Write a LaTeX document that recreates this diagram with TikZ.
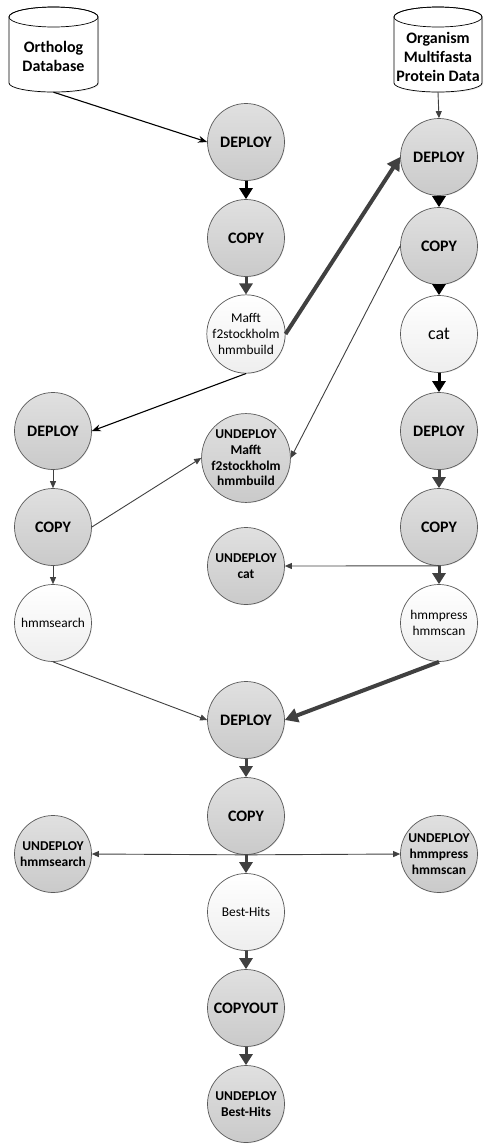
\documentclass[tikz,border=0pt]{standalone}
\usepackage{fontspec}
\setmainfont{Carlito}
\usetikzlibrary{arrows.meta,shadows}
\definecolor{edgegray}{RGB}{64,64,64}
\definecolor{bordergray}{RGB}{90,90,90}
\definecolor{gtop}{RGB}{224,224,224}
\definecolor{gbot}{RGB}{202,202,202}
\definecolor{wbot}{RGB}{238,238,238}
\begin{document}
\begin{tikzpicture}[x=1pt,y=1pt,
  base/.style={circle, minimum size=77pt, inner sep=0pt, draw=bordergray, line width=0.7pt, align=center,
    drop shadow={shadow xshift=0.7pt, shadow yshift=-0.7pt, opacity=0.18}},
  gnode/.style={base, top color=gtop, bottom color=gbot,
    font=\bfseries\fontsize{16}{19}\selectfont},
  unode/.style={base, top color=gtop, bottom color=gbot,
    font=\bfseries\fontsize{13.5}{15.7}\selectfont},
  wnode/.style={base, top color=white, bottom color=wbot,
    font=\fontsize{13.4}{15.6}\selectfont},
  cyltext/.style={align=center, font=\bfseries\fontsize{16}{19}\selectfont, inner sep=0pt},
  cylbox/.style={rectangle, minimum width=89pt, minimum height=85pt, inner sep=0pt},
  thinblack/.style={-{Stealth[length=9pt,width=7pt]}, line width=1.1pt, black},
  thingray/.style={-{Triangle[length=7pt,width=6pt]}, line width=0.9pt, edgegray},
  thickblack/.style={-{Triangle[length=11pt,width=13pt]}, line width=3pt, black},
  thickgray/.style={-{Triangle[length=11pt,width=13pt]}, line width=3pt, edgegray},
  heavygray/.style={-{Triangle[length=13pt,width=14pt]}, line width=4pt, edgegray}
]
\useasboundingbox (0,0) rectangle (486,-1144);

% cylinders
\begin{scope}[line width=0.7pt, draw=black]
  \fill[black!20, opacity=0.4] (10,-18) -- (10,-84) arc (180:360:44.5 and 9) -- (99,-18) -- cycle;
  \filldraw[fill=white] (9,-17) -- (9,-83) arc (180:360:44.5 and 9) -- (98,-17) arc (0:180:44.5 and 10) -- cycle;
  \draw (53.5,-17) ellipse (44.5 and 10);
  \fill[black!20, opacity=0.4] (395,-18) -- (395,-84) arc (180:360:44 and 9) -- (483,-18) -- cycle;
  \filldraw[fill=white] (394,-17) -- (394,-83) arc (180:360:44 and 9) -- (482,-17) arc (0:180:44 and 10) -- cycle;
  \draw (438,-17) ellipse (44 and 10);
\end{scope}
\node[cylbox] (orth) at (53.5,-49.5) {};
\node[cyltext] (orthtext) at (53.5,-56.5) {Ortholog\\Database};
\node[cylbox, minimum width=88pt] (org) at (438,-49.5) {};
\node[cyltext] (orgtext) at (438,-56.5) {Organism\\Multifasta\\Protein Data};

% middle column
\node[gnode] (d1) at (246,-142) {DEPLOY};
\node[gnode] (c1) at (246,-238) {COPY};
\node[wnode] (maf) at (246,-334) {Mafft\\f2stockholm\\hmmbuild};
\node[unode] (um) at (246,-458) {UNDEPLOY\\Mafft\\f2stockholm\\hmmbuild};
\node[unode] (uc) at (246,-566) {UNDEPLOY\\cat};
\node[gnode] (md) at (246,-720) {DEPLOY};
\node[gnode] (mc) at (246,-816) {COPY};
\node[wnode] (bh) at (246,-912) {Best-Hits};
\node[gnode] (co) at (246,-1008) {COPYOUT};
\node[unode] (ubh) at (246,-1104) {UNDEPLOY\\Best-Hits};

% right column
\node[gnode] (rd1) at (439,-157) {DEPLOY};
\node[gnode] (rc1) at (439,-246) {COPY};
\node[wnode, font=\fontsize{18}{20}\selectfont] (cat) at (439,-334) {cat};
\node[gnode] (rd2) at (439,-431) {DEPLOY};
\node[gnode] (rc2) at (439,-527) {COPY};
\node[wnode] (hp) at (439,-623) {hmmpress\\hmmscan};
\node[unode] (uhp) at (439,-854) {UNDEPLOY\\hmmpress\\hmmscan};

% left column
\node[gnode] (ld) at (53,-431) {DEPLOY};
\node[gnode] (lc) at (53,-527) {COPY};
\node[wnode] (hs) at (53,-623) {hmmsearch};
\node[unode] (uhs) at (53,-854) {UNDEPLOY\\hmmsearch};

% connectors
\draw[thinblack] (orth.south) -- (d1.west);
\draw[thickblack] (d1) -- (c1);
\draw[thickgray] (c1) -- (maf);
\draw[heavygray] (maf.east) -- (rd1.west);
\draw[thingray] (org.south) -- (rd1.north);
\draw[thickblack] (rd1) -- (rc1);
\draw[thickblack] (rc1) -- (cat);
\draw[thinblack] (maf.south) -- (ld.east);
\draw[thingray] (rc1.west) -- (um.east);
\draw[thickblack] (cat) -- (rd2);
\draw[thickgray] (rd2) -- (rc2);
\draw[thickgray] (rc2) -- (hp);
\draw[thingray] (rc2.south) -- (uc.east);
\draw[thingray] (ld) -- (lc);
\draw[thingray] (lc) -- (hs);
\draw[thingray] (lc.east) -- (um.west);
\draw[thingray] (hs.south) -- (md.west);
\draw[heavygray] (hp.south) -- (md.east);
\draw[thickgray] (md) -- (mc);
\draw[thickgray] (mc) -- (bh);
\draw[thingray] (mc.south) -- (uhs.east);
\draw[thingray] (mc.south) -- (uhp.west);
\draw[thickgray] (bh) -- (co);
\draw[thickgray] (co) -- (ubh);
\end{tikzpicture}
\end{document}
